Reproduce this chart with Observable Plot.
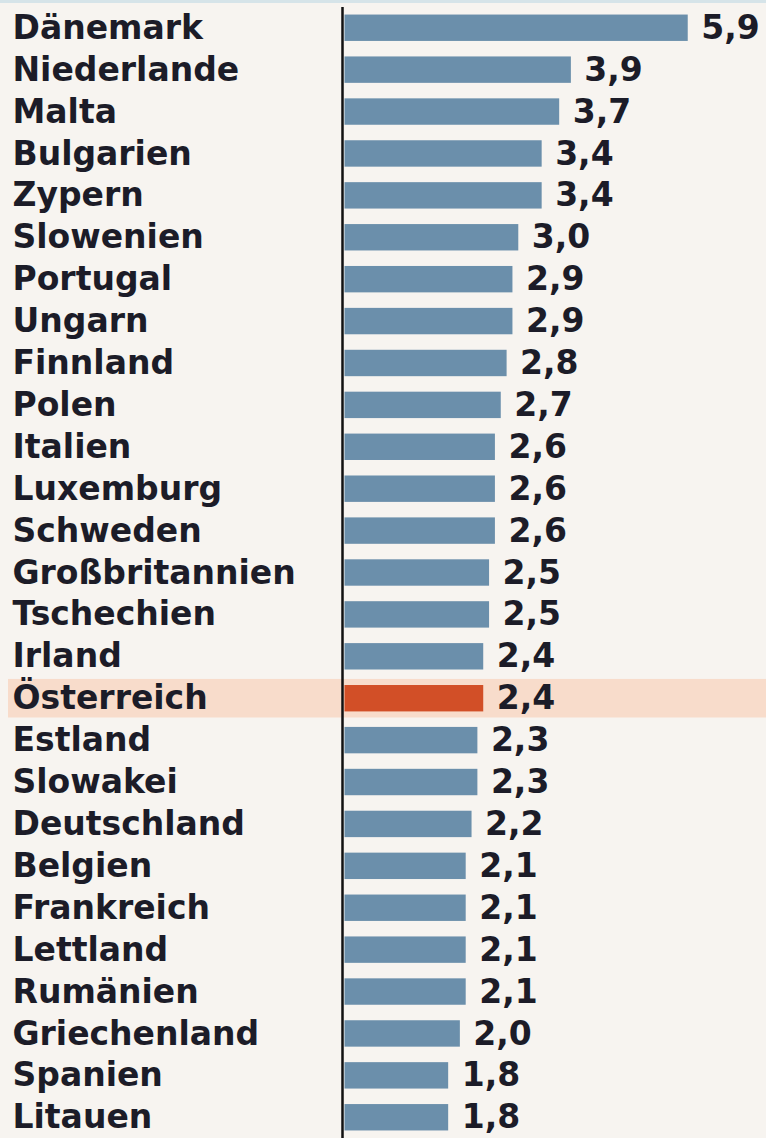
<!DOCTYPE html>
<html>
<head>
<meta charset="utf-8">
<script src="https://cdn.jsdelivr.net/npm/d3@7"></script>
<script src="https://cdn.jsdelivr.net/npm/@observablehq/plot@0.6"></script>
<style>
  html, body { margin: 0; padding: 0; background: #f7f4f0; }
  #chart { width: 766px; height: 1138px; border-top: 3px solid #d6e4e9; box-sizing: border-box; }
  #chart svg { display: block; }
</style>
</head>
<body>
<div id="chart"></div>
<script>
const countries = ["Dänemark","Niederlande","Malta","Bulgarien","Zypern","Slowenien","Portugal","Ungarn","Finnland","Polen","Italien","Luxemburg","Schweden","Großbritannien","Tschechien","Irland","Österreich","Estland","Slowakei","Deutschland","Belgien","Frankreich","Lettland","Rumänien","Griechenland","Spanien","Litauen"];
const values = [5.9,3.9,3.7,3.4,3.4,3.0,2.9,2.9,2.8,2.7,2.6,2.6,2.6,2.5,2.5,2.4,2.4,2.3,2.3,2.2,2.1,2.1,2.1,2.1,2.0,1.8,1.8];
const highlight = "Österreich";

const data = countries.map((c, i) => ({country: c, value: values[i]}));
const fmt = v => v.toFixed(1).replace(".", ",");
const font = "DejaVu Sans";
const W = 766, H = 1135, ML = 343;

const band = (index, scales, vals, dims) => {
  const y = scales.y(highlight);
  const bw = scales.y.bandwidth ? scales.y.bandwidth() : 0;
  const step = scales.y.step ? scales.y.step() : bw;
  const h = step * 0.92;
  return d3.create("svg:rect")
    .attr("x", 8).attr("width", dims.width - 8)
    .attr("y", y + bw / 2 - h / 2).attr("height", h)
    .attr("fill", "#f8dccb").node();
};

const chart = Plot.plot({
  width: W,
  height: H,
  marginLeft: ML,
  marginRight: 14,
  marginTop: 4,
  marginBottom: 0,
  style: {background: "transparent", fontFamily: font},
  x: {domain: [0, 7], axis: null},
  y: {domain: countries, paddingInner: 0.37, paddingOuter: 0.18, round: false, axis: null},
  marks: [
    band,
    Plot.barX(data, {
      y: "country", x: "value",
      fill: d => d.country === highlight ? "#d24f27" : "#6b8fab",
      insetLeft: 1.5
    }),
    Plot.ruleX([0], {stroke: "#111", strokeWidth: 2.5, dx: -1}),
    Plot.text(data, {
      y: "country", frameAnchor: "left", text: "country",
      textAnchor: "start", dx: 12 - ML,
      fontSize: 33, fontWeight: "bold", fill: "#1c1c28"
    }),
    Plot.text(data, {
      y: "country", x: "value", text: d => fmt(d.value),
      textAnchor: "start", dx: 13,
      fontSize: 33, fontWeight: "bold", fill: "#1c1c28"
    })
  ]
});
document.getElementById("chart").appendChild(chart);
</script>
</body>
</html>
